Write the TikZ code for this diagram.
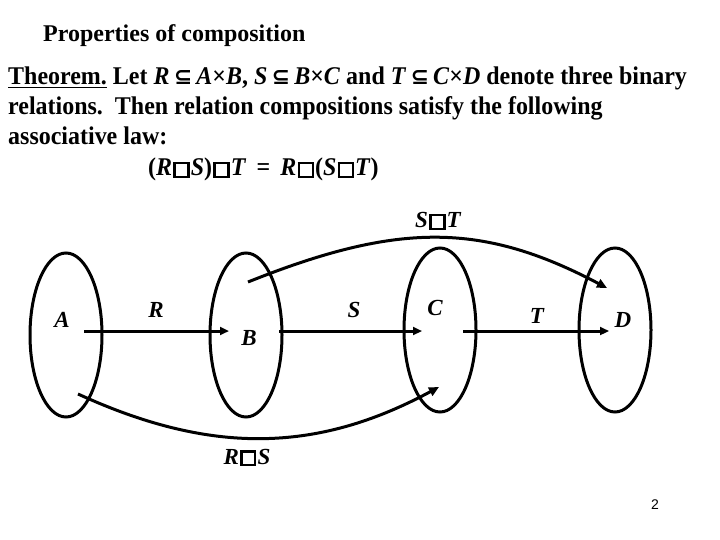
\documentclass[tikz,border=0pt]{standalone}
\usepackage{fontspec}
\setmainfont{Liberation Serif}
\newfontfamily\bodyfnt[FakeStretch=0.94]{Liberation Serif}
\newfontfamily\symfnt{DejaVu Sans}
\newfontfamily\pgfnt{Liberation Sans}
\usetikzlibrary{shapes.geometric,arrows.meta}
\newcommand{\cmp}{\kern1.2pt{\setlength{\fboxrule}{2.4pt}\setlength{\fboxsep}{0pt}\fbox{\rule{0pt}{11.5pt}\hspace{11.5pt}}}\kern1.2pt}
\newcommand{\sbs}{\,{\symfnt\fontsize{22}{22}\selectfont ⊆}\,}
\begin{document}
\begin{tikzpicture}[x=1pt,y=-1pt,
  set/.style={draw,line width=3pt,ellipse,minimum width=72pt,minimum height=164pt,inner sep=0pt},
  lbl/.style={font=\fontsize{23}{23}\selectfont\bfseries\itshape,anchor=base,inner sep=0pt},
  txt/.style={font=\bodyfnt\fontsize{25.5}{25.5}\selectfont\bfseries,anchor=base west,inner sep=0pt},
  rel/.style={line width=3pt,-{Triangle[length=9pt,width=8pt]}},
  comp/.style={line width=3pt,-{Triangle[length=10pt,width=9pt]}}]
\useasboundingbox (0,0) rectangle (720,540);
% texts
\node[txt,font=\fontsize{24}{24}\selectfont\bfseries] (title) at (43,42) {Properties of composition};
\node[txt] (l1) at (8,85) {\underline{Theorem.} Let \textit{R}\sbs\textit{A}×\textit{B}, \textit{S}\sbs\textit{B}×\textit{C} and \textit{T}\sbs\textit{C}×\textit{D} denote three binary};
\node[txt] (l2) at (8,115) {relations.\ \ Then relation compositions satisfy the following};
\node[txt] (l3) at (8,145) {associative law:};
\node[txt] (l4) at (148,176) {(\textit{R}\cmp\textit{S})\cmp\textit{T}\ \,=\ \,\textit{R}\cmp(\textit{S}\cmp\textit{T})};
% sets
\node[set] (ellA) at (66,335) {};
\node[set] (ellB) at (246,335) {};
\node[set] (ellC) at (440,330) {};
\node[set] (ellD) at (615,330) {};
% labels
\node[lbl] (labA) at (62,327) {A};
\node[lbl] (labR) at (156,317) {R};
\node[lbl] (labB) at (249,345) {B};
\node[lbl] (labS) at (354,317) {S};
\node[lbl] (labC) at (435,315) {C};
\node[lbl] (labT) at (537,323) {T};
\node[lbl] (labD) at (623,327) {D};
\node[lbl] (labST) at (438,228) {S\cmp T};
\node[lbl] (labRS) at (247,464) {R\cmp S};
% arrow ends
\coordinate (a1) at (84,331);
\coordinate (b0) at (229,331);
\coordinate (b1) at (279,331);
\coordinate (c0) at (422,331);
\coordinate (c1) at (463,331);
\coordinate (d0) at (609,331);
\coordinate (stA) at (248,282);
\coordinate (stB) at (607,288);
\coordinate (rsA) at (78,394);
\coordinate (rsB) at (439,387);
\draw[rel] (a1) -- (b0);
\draw[rel] (b1) -- (c0);
\draw[rel] (c1) -- (d0);
\draw[comp] (stA) .. controls (398,222) and (482,222) .. (stB);
\draw[comp] (rsA) .. controls (209,454) and (315,454) .. (rsB);
\node[font=\pgfnt\fontsize{14}{14}\selectfont,anchor=base] (pg) at (655,509) {2};
\end{tikzpicture}
\end{document}
